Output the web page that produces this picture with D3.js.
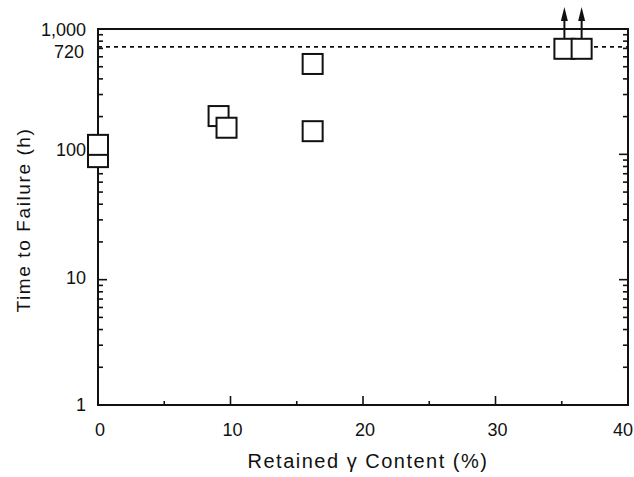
<!DOCTYPE html>
<html>
<head>
<meta charset="utf-8">
<script src="https://cdn.jsdelivr.net/npm/d3@7"></script>
<style>
  html, body { margin: 0; padding: 0; background: #fff; }
  svg { display: block; }
  text { font-family: "Liberation Sans", Arial, Helvetica, sans-serif; fill: #111; }
</style>
</head>
<body>
<svg id="chart" width="634" height="477"></svg>
<script>
// ---- data ----
const retainedGamma = [0, 0, 9.1, 9.7, 16.2, 16.2, 35.2, 36.5];
const timeToFailure = [95, 119, 202, 163, 153, 526, 695, 695];
const runOut        = [false, false, false, false, false, false, true, true];
const xTickValues = [0, 10, 20, 30, 40];
const xMinorTicks = [5, 15, 25, 35];
const yTickValues = [1, 10, 100, 1000];
const yTickLabels = ["1", "10", "100", "1,000"];
const testDuration = 720;
const xTitle = "Retained \u03b3 Content (%)";
const yTitle = "Time to Failure (h)";

// ---- layout ----
const W = 634, H = 477;
const m = { left: 98, right: 6, top: 29, bottom: 72 };
const svg = d3.select("#chart");

const x = d3.scaleLinear().domain([0, 40]).range([m.left, W - m.right]);
const y = d3.scaleLog().domain([1, 1000]).range([H - m.bottom, m.top]);

const x0 = x.range()[0], x1 = x.range()[1];
const y0 = y.range()[0], y1 = y.range()[1];

// minor log ticks
const yMinor = [];
for (let d = 1; d < 1000; d *= 10) for (let k = 2; k <= 9; k++) yMinor.push(d * k);

const g = svg.append("g");

// frame
g.append("rect")
  .attr("x", x0).attr("y", y1).attr("width", x1 - x0).attr("height", y0 - y1)
  .attr("fill", "none").attr("stroke", "#111").attr("stroke-width", 2);

// ticks (inward)
const ax = g.append("g").attr("stroke", "#111").attr("stroke-width", 1.6);
ax.selectAll(".ymaj").data(yTickValues).join("line")
  .attr("x1", x0).attr("x2", x0 + 9).attr("y1", d => y(d)).attr("y2", d => y(d));
ax.selectAll(".ymin").data(yMinor).join("line")
  .attr("x1", x0).attr("x2", x0 + 5).attr("y1", d => y(d)).attr("y2", d => y(d));
ax.selectAll(".rmaj").data(yTickValues).join("line")
  .attr("x1", x1).attr("x2", x1 - 9).attr("y1", d => y(d)).attr("y2", d => y(d));
ax.selectAll(".rmin").data(yMinor).join("line")
  .attr("x1", x1).attr("x2", x1 - 5).attr("y1", d => y(d)).attr("y2", d => y(d));
ax.selectAll(".xmaj").data(xTickValues.slice(1, -1)).join("line")
  .attr("x1", d => x(d)).attr("x2", d => x(d)).attr("y1", y0).attr("y2", y0 - 9);
ax.selectAll(".xmin").data(xMinorTicks).join("line")
  .attr("x1", d => x(d)).attr("x2", d => x(d)).attr("y1", y0).attr("y2", y0 - 4);

// tick labels
const tl = g.append("g").attr("font-size", 18);
tl.selectAll(".yl").data(yTickValues).join("text")
  .attr("x", 86).attr("y", d => y(d) + (d === 1000 ? 1 : d === 100 ? -4 : d === 10 ? -2 : 0))
  .attr("text-anchor", "end").attr("dominant-baseline", "central")
  .text((d, i) => yTickLabels[i]);
tl.append("text")
  .attr("x", 84).attr("y", y(testDuration) + 5)
  .attr("text-anchor", "end").attr("dominant-baseline", "central")
  .text(String(testDuration));
tl.selectAll(".xl").data(xTickValues).join("text")
  .attr("x", d => Math.min(x(d) + 2, W - 11)).attr("y", y0 + 25)
  .attr("text-anchor", "middle").attr("dominant-baseline", "central")
  .text(d => d);

// titles
g.append("text")
  .attr("x", (x0 + x1) / 2 + 5).attr("y", H - 9)
  .attr("text-anchor", "middle").attr("font-size", 20).attr("letter-spacing", 1.5)
  .text(xTitle);
g.append("text")
  .attr("transform", `translate(30, ${(y0 + y1) / 2 + 3}) rotate(-90)`)
  .attr("text-anchor", "middle").attr("font-size", 19).attr("letter-spacing", 1.6)
  .text(yTitle);

// dashed 720 h line
g.append("line")
  .attr("x1", x0).attr("x2", x1).attr("y1", y(testDuration)).attr("y2", y(testDuration))
  .attr("stroke", "#111").attr("stroke-width", 1.6).attr("stroke-dasharray", "4,4");

// arrows for run-outs
const S = 20;
const idx = d3.range(retainedGamma.length);
const ro = idx.filter(i => runOut[i]);
g.selectAll(".shaft").data(ro).join("line")
  .attr("x1", i => x(retainedGamma[i])).attr("x2", i => x(retainedGamma[i]))
  .attr("y1", i => y(timeToFailure[i]) - S / 2).attr("y2", 18)
  .attr("stroke", "#111").attr("stroke-width", 2);
g.selectAll(".head").data(ro).join("path")
  .attr("d", i => {
    const cx = x(retainedGamma[i]);
    return `M${cx - 3.5},21 L${cx},7 L${cx + 3.5},21 Z`;
  })
  .attr("fill", "#111");

// squares
g.selectAll(".pt").data(idx).join("rect")
  .attr("x", i => x(retainedGamma[i]) - S / 2)
  .attr("y", i => y(timeToFailure[i]) - S / 2)
  .attr("width", S).attr("height", S)
  .attr("fill", "#fff").attr("stroke", "#111").attr("stroke-width", 2);
</script>
</body>
</html>
